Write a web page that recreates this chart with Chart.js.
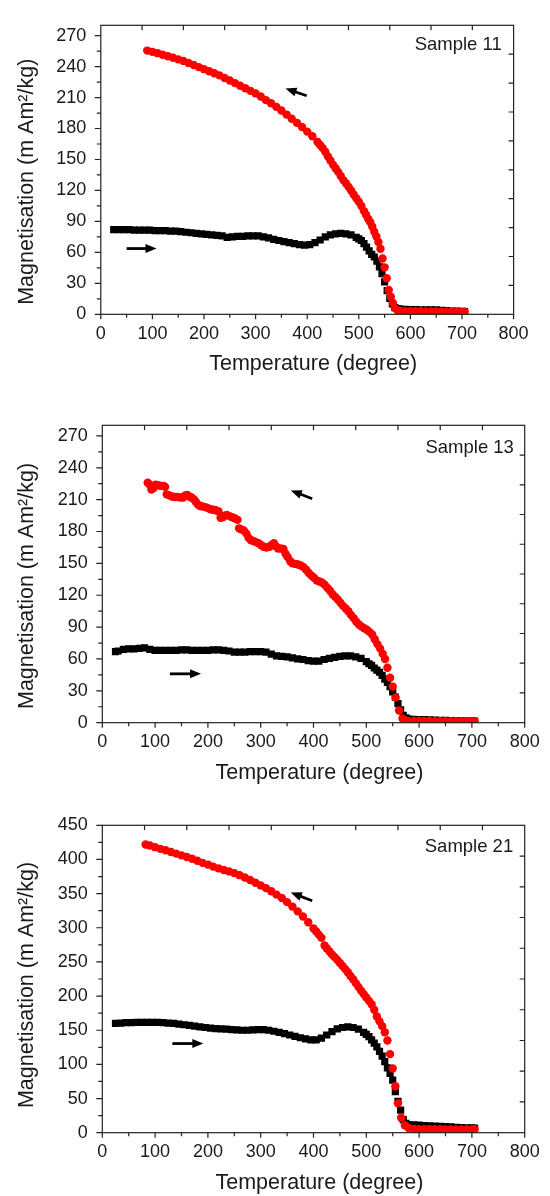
<!DOCTYPE html>
<html><head><meta charset="utf-8">
<script src="https://cdn.jsdelivr.net/npm/chart.js@4.4.1/dist/chart.umd.min.js"></script>
<style>
html,body{margin:0;padding:0;background:#fff;width:550px;height:1196px;overflow:hidden}
.p{position:absolute;left:0;width:550px}
canvas{display:block}
</style></head><body>
<div class="p" style="top:0;height:400px"><canvas id="c1" width="550" height="400"></canvas></div>
<div class="p" style="top:400px;height:400px"><canvas id="c2" width="550" height="400"></canvas></div>
<div class="p" style="top:800px;height:396px"><canvas id="c3" width="550" height="396"></canvas></div>
<script>
// ---- Data: [temperature (degree), magnetisation (m Am^2/kg)] ----
const heat11 = [[25,82],[35,82],[45,82],[55,82],[65,81.5],[75,81.5],[85,81.5],[95,81.5],[105,81],[115,81],[125,81],[135,80.5],[145,80.5],[155,80],[165,79.5],[175,79],[185,78.5],[195,78],[205,77.5],[215,77],[225,76.5],[235,76],[245,74.5],[255,75],[265,75.5],[275,75.5],[285,76],[295,76],[305,76],[315,75],[325,74],[335,72.5],[345,71.5],[355,70.5],[365,69.5],[375,68.5],[385,67.5],[395,67],[405,67.5],[415,69.5],[425,72],[435,75],[445,77],[455,78],[465,78.5],[475,78],[485,77],[495,74.5],[500,73],[505,71.5],[510,68.5],[515,65],[520,61.5],[525,58],[530,55.5],[535,51.5],[540,46],[545,39.5],[550,31.5],[555,23],[560,15.5],[565,10],[570,6.5],[575,5.5],[580,5],[590,4.8],[600,4.6],[610,4.5],[620,4.4],[630,4.3],[640,4.2],[650,4.2],[660,3.8],[670,3.5],[680,3.2],[690,3],[700,2.8],[705,2.5]];
const cool11 = [[705,2.4],[700,2.2],[690,2.3],[680,2.4],[670,2.5],[660,2.6],[650,2.7],[640,2.8],[630,2.8],[620,3],[610,3],[600,3],[590,3],[580,3.5],[575,3.8],[570,6],[566,11],[562,17],[558,23.5],[554,35],[550,45.5],[546,54],[542,63.5],[538,70],[534,75.5],[530,80],[526,85],[522,89.5],[518,92.5],[514,96.5],[510,100],[505,105],[500,109],[495,112.5],[490,116],[485,120],[480,123.5],[475,127],[470,130],[465,134],[460,138],[455,141.5],[450,145],[445,149],[440,153],[435,157.5],[430,161],[425,164],[420,167],[410,172.5],[400,177],[390,181.5],[380,185.5],[370,189.5],[360,193.5],[350,197.5],[340,201],[330,204.5],[320,207.5],[310,211],[300,214],[290,216.5],[280,219],[270,221.5],[260,224],[250,226.5],[240,229],[230,231.5],[220,233.5],[210,235.5],[200,237.5],[190,239.5],[180,241.5],[170,243.5],[160,245.5],[150,247],[140,248.5],[130,250],[120,251.5],[110,253],[100,254.3],[90,255.5]];

const heat13 = [[25,67],[30,67.5],[40,69],[50,69.5],[60,69.5],[70,70],[80,70.5],[90,69],[100,68],[110,68],[120,68],[130,68],[140,68],[150,68.5],[160,68.5],[170,68],[180,68],[190,68],[200,68],[210,68.5],[220,68.5],[230,68],[240,67.5],[250,66.5],[260,66.5],[270,66.5],[280,67],[290,67],[300,67],[310,66.5],[320,64.5],[330,63],[340,62.5],[350,62],[360,61],[370,60],[380,59.5],[390,58.5],[400,58],[410,58],[420,59.5],[430,60.5],[440,61.5],[450,62.5],[460,63],[470,63],[480,62],[490,60.5],[500,57.5],[505,55.5],[510,54],[515,51.5],[520,49.5],[525,47.5],[530,44.5],[535,41],[540,38],[545,34],[550,29],[555,24],[560,18],[565,12],[570,7],[575,4.5],[580,3.5],[590,3.2],[600,3],[610,2.8],[620,2.7],[630,2.5],[640,2.3],[650,2.2],[660,2],[670,1.8],[680,1.7],[690,1.6],[700,1.5],[705,1.5]];
const cool13 = [[705,1.5],[700,1.4],[690,1.4],[680,1.4],[670,1.4],[660,1.4],[650,1.4],[640,1.5],[630,1.5],[620,1.6],[610,1.6],[600,1.7],[590,1.7],[580,1.5],[575,1.8],[568.5,4],[562,11.5],[555.5,23.6],[550,34],[545,42.3],[540,51.7],[535.5,60],[531,65],[526,70],[521,74],[516,78.5],[511,83],[506,85.5],[501,87.5],[496,89],[491,90.5],[486,92.5],[481,95],[476,98.5],[471,101.5],[466,105],[461,107.5],[456,110],[451,113],[446,116],[441,118.5],[436,121],[431,124.5],[426,127],[421,130],[416,132],[411,133],[406,134],[401,136.5],[396,138.5],[391,141],[386,144],[381,146.5],[376,148],[371,149],[366,149.5],[360,150],[356,152],[351,156],[347,159],[343,163.5],[338,164],[333,164],[329,166],[325,169],[320,167],[316,165.5],[311,165],[306,165.5],[301,167],[296,169],[291,170],[286,171],[281,172],[277,174],[273,178],[268,181],[263,182],[259,183],[256,191],[251,192.5],[246,193.5],[241,194.5],[236,195.5],[232,195],[228,193.5],[224,193],[220,199],[215,200],[210,200.5],[205,201],[200,202],[195,203],[190,203.5],[185,204],[181,205.5],[177,208],[173,210.5],[169,212],[165,213],[161,214.5],[157,214],[153,212],[148,212],[142,212.5],[137,212.5],[132,213],[127,214],[122,215],[119,222],[116,223],[111,223],[106,223.5],[101,224],[97,221],[93,219.5],[90,224],[86,226]];

const heat21 = [[25,160],[35,160.5],[45,161],[55,161],[65,161.5],[75,161.5],[85,161.5],[95,161.5],[105,161.5],[115,161],[125,160.5],[135,160],[145,159],[155,158],[165,157],[175,156],[185,155],[195,154],[205,153],[215,152.5],[225,152],[235,151.5],[245,151],[255,150.5],[265,150],[275,150],[285,150.5],[295,151],[305,151],[315,150],[325,148.5],[335,147],[345,145],[355,143],[365,141],[375,139],[385,137.5],[395,136],[405,136],[415,138.5],[425,143],[435,148],[445,152],[455,154],[465,155],[475,154],[485,151.5],[495,147],[500,144],[505,140.5],[510,136],[515,131],[520,125.5],[525,119],[530,112],[535,104],[540,95],[545,87],[550,77],[555,60],[560,46],[565,33],[570,19],[575,13.5],[580,12],[590,11.5],[600,11],[610,10.5],[620,10],[630,9.5],[640,9.2],[650,9],[660,8.5],[670,8],[680,7.5],[690,7.2],[700,7],[705,6.8]];
const cool21 = [[705,5],[700,4.6],[690,4.6],[680,4.7],[670,4.7],[660,4.8],[650,4.8],[640,5],[630,5],[620,5],[610,5],[600,5],[590,5.5],[580,7],[573,11],[566,22],[560,43],[555,68],[550,94],[545,115],[540,135],[535,147],[530,156],[525,163],[520,170],[515,180],[510,188],[505,193],[500,198],[495,203],[490,208],[485,213.5],[480,219],[475,224.5],[470,229.5],[465,235],[460,239.5],[455,244],[450,248.5],[445,253],[440,257],[435,261],[430,265.5],[425,270],[421,274],[415,285.5],[410,290],[405,294.5],[400,299],[390,308],[380,316.5],[370,324],[360,331],[350,337.5],[340,343.5],[330,348.5],[320,353.5],[310,358],[300,362],[290,366],[280,370],[270,373.5],[260,377],[250,380],[240,382.5],[230,384.5],[220,387],[210,389.5],[200,392.5],[190,395],[180,398],[170,401],[160,403.5],[150,406],[140,408.5],[130,411],[120,413.5],[110,415.5],[100,418],[90,420.5],[82,422]];

// direction arrows: [tailT, tailM, headT, headM]
const arrows11 = [[50,63.7,108,63.7],[399,211.7,358,218.8]];
const arrows13 = [[128,46,187,46],[397.5,210.9,357,218.7]];
const arrows21 = [[132.6,130.5,191.3,130.5],[397.5,339.5,357,351.7]];

// axis settings
const xMax = 800, xStep = 100, xMinor = 50;
const sampleNames = ['Sample 11','Sample 13','Sample 21'];
const yMaxes = [280, 280, 450];
const ySteps = [30, 30, 50];
const yMinors = [15, 15, 25];
const yRightMaxes = [300, 300, 500];
const xTitle = 'Temperature (degree)';
const yTitle = 'Magnetisation (m Am\u00b2/kg)';

const FONT = "'Liberation Sans', Arial, Helvetica, sans-serif";
const INK = '#1a1a1a';

function drawArrow(ctx, x1, y1, x2, y2) {
  const ang = Math.atan2(y2 - y1, x2 - x1);
  const hl = 11, hw = 4.5;
  const bx = x2 - hl * Math.cos(ang), by = y2 - hl * Math.sin(ang);
  ctx.lineWidth = 2.8;
  ctx.beginPath(); ctx.moveTo(x1, y1); ctx.lineTo(bx + Math.cos(ang), by + Math.sin(ang)); ctx.stroke();
  ctx.beginPath();
  ctx.moveTo(x2, y2);
  ctx.lineTo(bx + hw * Math.sin(ang), by - hw * Math.cos(ang));
  ctx.lineTo(bx - hw * Math.sin(ang), by + hw * Math.cos(ang));
  ctx.closePath(); ctx.fill();
}

const framePlugin = {
  id: 'frame',
  afterDraw(chart, args, o) {
    const {ctx, chartArea: a, scales: {x, y}} = chart;
    const W = a.right - a.left, H = a.bottom - a.top;
    ctx.save();
    ctx.strokeStyle = '#222'; ctx.fillStyle = '#111';
    ctx.lineWidth = 1.2;
    ctx.strokeRect(a.left, a.top, W, H);
    ctx.beginPath();
    for (let v = 0; v <= xMax; v += xMinor) {
      const px = x.getPixelForValue(v);
      const len = v % xStep === 0 ? 5 : 3.5;
      ctx.moveTo(px, a.bottom); ctx.lineTo(px, a.bottom + len);
    }
    for (let v = 0; v <= o.yMax; v += o.yMinor) {
      const py = y.getPixelForValue(v);
      const len = v % o.yStep === 0 ? 6 : 4;
      ctx.moveTo(a.left, py); ctx.lineTo(a.left - len, py);
    }
    // mirrored (secondary) axes: inward ticks
    for (let v = o.yStep; v < o.yRightMax; v += o.yStep) {
      const py = a.bottom - v / o.yRightMax * H;
      ctx.moveTo(a.right, py); ctx.lineTo(a.right - 5, py);
    }
    for (let v = 100; v < 1000; v += 100) {
      const px = a.left + v / 1000 * W;
      ctx.moveTo(px, a.top); ctx.lineTo(px, a.top + 5);
    }
    ctx.stroke();
    // sample label
    ctx.fillStyle = INK;
    ctx.font = '18.5px ' + FONT;
    ctx.textAlign = 'right'; ctx.textBaseline = 'middle';
    ctx.fillText(o.label, a.right - o.labelDx, a.top + o.labelDy);
    // arrows
    ctx.fillStyle = '#000'; ctx.strokeStyle = '#000';
    o.arrows.forEach(([t1, m1, t2, m2]) => {
      drawArrow(ctx, x.getPixelForValue(t1), y.getPixelForValue(m1), x.getPixelForValue(t2), y.getPixelForValue(m2));
    });
    ctx.restore();
  }
};

function toXY(arr) { return arr.map(([t, m]) => ({x: t, y: m})); }

function makePanel(id, i, heat, cool, arrows, g) {
  new Chart(document.getElementById(id), {
    type: 'scatter',
    data: {
      datasets: [
        {label: 'Cooling', data: toXY(cool), pointStyle: 'circle', pointRadius: 4.2,
         backgroundColor: '#ff0000', borderColor: '#ff0000', borderWidth: 0, order: 1},
        {label: 'Heating', data: toXY(heat), pointStyle: 'rect', pointRadius: 5.1,
         backgroundColor: '#000000', borderColor: '#000000', borderWidth: 0, order: 2}
      ]
    },
    options: {
      responsive: false, animation: false, devicePixelRatio: 1, events: [],
      layout: {padding: {top: g.top, right: 550 - g.right, bottom: 0, left: 0}},
      plugins: {
        legend: {display: false}, tooltip: {enabled: false},
        frame: {yMax: yMaxes[i], yStep: ySteps[i], yMinor: yMinors[i], yRightMax: yRightMaxes[i],
                label: sampleNames[i], labelDx: g.labelDx, labelDy: g.labelDy, arrows: arrows}
      },
      scales: {
        x: {
          type: 'linear', position: 'bottom', min: 0, max: xMax,
          ticks: {stepSize: xStep, autoSkip: false, maxRotation: 0, includeBounds: false,
                  padding: 8.5, color: INK, font: {family: FONT, size: 18}},
          grid: {display: false, drawTicks: false, tickLength: 0},
          border: {display: false},
          title: {display: true, text: '\u00a0\u00a0' + xTitle, color: INK,
                  font: {family: FONT, size: 21.5}, padding: {top: 0, bottom: g.xTitlePad}},
          afterFit(s) { s.height = g.canvasH - g.bottom; }
        },
        y: {
          type: 'linear', position: 'left', min: 0, max: yMaxes[i],
          ticks: {stepSize: ySteps[i], autoSkip: false, includeBounds: false,
                  padding: 14.5, color: INK, font: {family: FONT, size: 18}},
          grid: {display: false, drawTicks: false, tickLength: 0},
          border: {display: false},
          title: {display: true, text: yTitle + '\u00a0'.repeat(g.ySpaces), color: INK,
                  font: {family: FONT, size: 21.5}, padding: {top: 14.3, bottom: 0}},
          afterFit(s) { s.width = g.left; }
        }
      }
    },
    plugins: [framePlugin]
  });
}

makePanel('c1', 0, heat11, cool11, arrows11,
  {left: 100.8, right: 513.6, top: 12, bottom: 314.3, canvasH: 400, xTitlePad: 23, ySpaces: 4, labelDx: 11.9, labelDy: 19.7});
makePanel('c2', 1, heat13, cool13, arrows13,
  {left: 102.3, right: 524.7, top: 12.8, bottom: 322.7, canvasH: 400, xTitlePad: 13.8, ySpaces: 4, labelDx: 10.8, labelDy: 22.7});
makePanel('c3', 2, heat21, cool21, arrows21,
  {left: 102.3, right: 524.7, top: 24, bottom: 332.7, canvasH: 396, xTitlePad: 0, ySpaces: 2, labelDx: 11.5, labelDy: 21.8});
</script>
</body></html>
